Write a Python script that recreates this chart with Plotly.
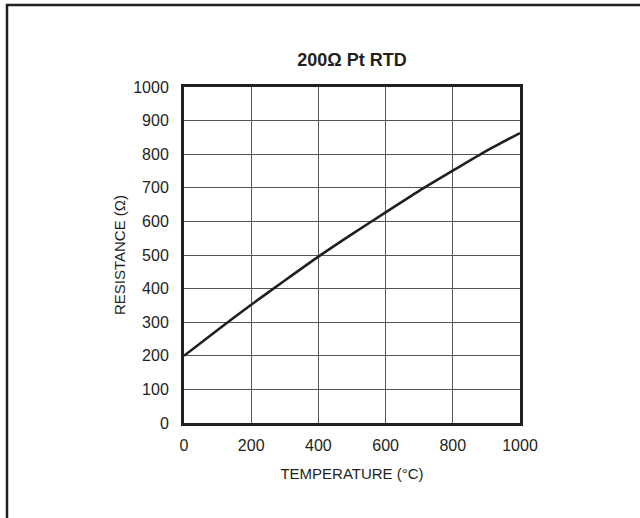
import plotly.graph_objects as go

temperature_c = [0, 100, 200, 300, 400, 500, 600, 700, 800, 900, 1000]
resistance_ohm = [200, 277, 352, 424, 495, 562, 627, 691, 751, 810, 863]

x_ticks = [0, 200, 400, 600, 800, 1000]
y_ticks = [0, 100, 200, 300, 400, 500, 600, 700, 800, 900, 1000]

title_text = "<b>200Ω Pt RTD</b>"
x_title = "TEMPERATURE (°C)"
y_title = "RESISTANCE (Ω)"

ink = "#231f20"
font_family = "Liberation Sans, Arial, sans-serif"

W, H = 640, 518
L, R, T, B = 184, 120, 87, 95
pw, ph = W - L - R, H - T - B

fig = go.Figure()
fig.add_trace(go.Scatter(
    x=temperature_c, y=resistance_ohm, mode="lines",
    line=dict(color=ink, width=2.6, shape="spline", smoothing=0.6),
    showlegend=False, hoverinfo="skip",
))

axis_common = dict(
    showline=True, mirror=True, linewidth=3, linecolor=ink,
    showgrid=True, gridcolor="#555555", gridwidth=1,
    zeroline=False, ticks="",
    tickfont=dict(family=font_family, size=16, color=ink),
    title_font=dict(family=font_family, size=15, color=ink),
)

fig.update_xaxes(range=[0, 1000], tickvals=x_ticks, ticktext=[str(v) for v in x_ticks],
                 title_text=x_title, title_standoff=16, ticklabelstandoff=6, **axis_common)
fig.update_yaxes(range=[0, 1000], tickvals=y_ticks, ticktext=[str(v) for v in y_ticks],
                 title_text=y_title, title_standoff=4, ticklabelstandoff=9, **axis_common)

# outer frame (top and left visible; right/bottom run off the image)
x0 = (7 - L) / pw
x1 = (W + 20 - L) / pw
y1 = (H - B - 5) / ph
y0 = (H - B - (H + 20)) / ph
fig.add_shape(type="rect", xref="paper", yref="paper", x0=x0, x1=x1, y0=y0, y1=y1,
              line=dict(color=ink, width=2.5), fillcolor="rgba(0,0,0,0)", layer="above")

fig.update_layout(
    width=W, height=H,
    margin=dict(l=L, r=R, t=T, b=B, autoexpand=False),
    paper_bgcolor="white", plot_bgcolor="white",
    title=dict(text=title_text, x=(L + pw / 2) / W, xanchor="center",
               y=1 - 60 / H, yanchor="middle", yref="container",
               font=dict(family=font_family, size=18, color=ink)),
)

fig.write_html("out.html", config={"displayModeBar": False},
               post_script="document.body.style.margin='0';document.body.style.overflow='hidden';")
